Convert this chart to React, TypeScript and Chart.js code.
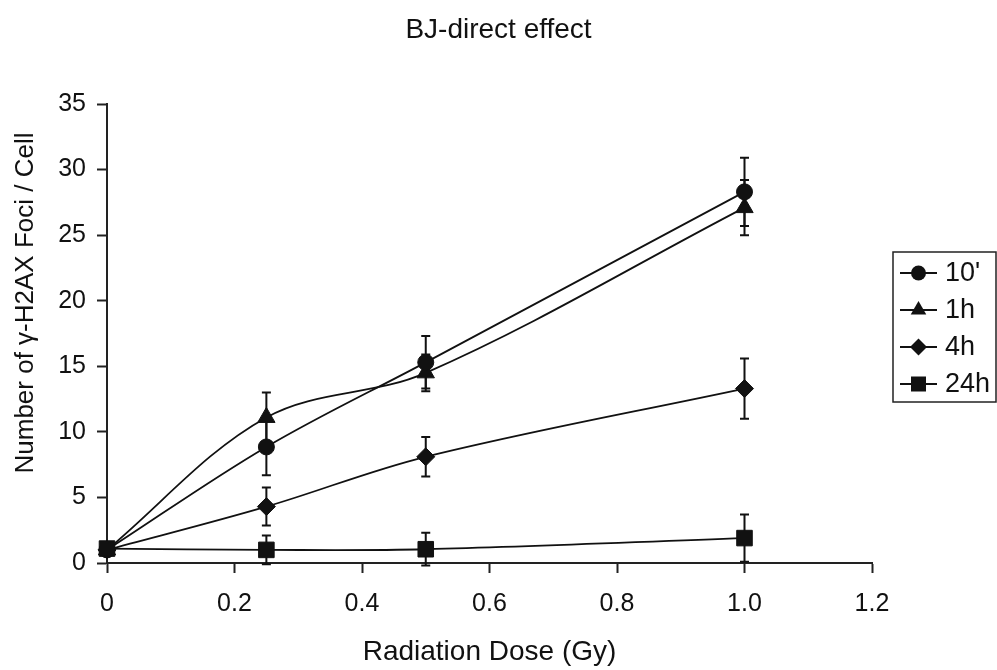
import React, { useEffect, useRef } from 'react';
import { Chart, registerables } from 'chart.js';

Chart.register(...registerables);

const doses = [0, 0.25, 0.5, 1];
const seriesLabels = ["10'", '1h', '4h', '24h'];
const foci10min = [1.0, 8.85, 15.3, 28.3];
const err10min = [0, 2.15, 2.0, 2.6];
const foci1h = [1.0, 11.1, 14.5, 27.1];
const err1h = [0, 1.9, 1.4, 2.1];
const foci4h = [1.0, 4.3, 8.1, 13.3];
const err4h = [0, 1.45, 1.5, 2.3];
const foci24h = [1.1, 1.0, 1.05, 1.9];
const err24h = [0, 1.1, 1.25, 1.8];

const chartTitle = 'BJ-direct effect';
const xTitle = 'Radiation Dose (Gy)';
const yTitle = 'Number of γ-H2AX Foci / Cell';

const FONT = '"Liberation Sans", Arial, Helvetica, sans-serif';
const INK = '#111';
const AXIS = '#222';

const seriesValues = [foci10min, foci1h, foci4h, foci24h];
const seriesErrors = [err10min, err1h, err4h, err24h];
const seriesStyles = ['circle', 'triangle', 'rectRot', 'rect'];
const seriesRadius = [8, 10, 9, 11];
const seriesOrder = [1, 2, 3, 0];

function drawMarker(ctx: CanvasRenderingContext2D, style: string, x: number, y: number) {
  ctx.beginPath();
  if (style === 'circle') {
    ctx.arc(x, y, 7.5, 0, Math.PI * 2);
  } else if (style === 'triangle') {
    const r = 9;
    ctx.moveTo(x, y - r);
    ctx.lineTo(x + r * Math.sin((2 * Math.PI) / 3), y + r / 2);
    ctx.lineTo(x - r * Math.sin((2 * Math.PI) / 3), y + r / 2);
    ctx.closePath();
  } else if (style === 'rectRot') {
    const r = 8.5;
    ctx.moveTo(x, y - r);
    ctx.lineTo(x + r, y);
    ctx.lineTo(x, y + r);
    ctx.lineTo(x - r, y);
    ctx.closePath();
  } else {
    ctx.rect(x - 7.5, y - 7.5, 15, 15);
  }
  ctx.fill();
}

const errorBarPlugin = {
  id: 'errorBars',
  beforeDatasetsDraw(chart: any) {
    const ctx = chart.ctx as CanvasRenderingContext2D;
    const yScale = chart.scales.y;
    ctx.save();
    ctx.strokeStyle = INK;
    ctx.lineWidth = 2;
    chart.data.datasets.forEach((ds: any, i: number) => {
      const meta = chart.getDatasetMeta(i);
      const errs: number[] = ds.errors || [];
      meta.data.forEach((pt: any, j: number) => {
        const e = errs[j];
        if (!e) return;
        const v = ds.data[j].y;
        const yTop = yScale.getPixelForValue(v + e);
        const yBot = yScale.getPixelForValue(v - e);
        const x = pt.x;
        ctx.beginPath();
        ctx.moveTo(x, yTop);
        ctx.lineTo(x, yBot);
        ctx.moveTo(x - 4.5, yTop);
        ctx.lineTo(x + 4.5, yTop);
        ctx.moveTo(x - 4.5, yBot);
        ctx.lineTo(x + 4.5, yBot);
        ctx.stroke();
      });
    });
    ctx.restore();
  },
};

const sideTextPlugin = {
  id: 'sideText',
  afterDraw(chart: any) {
    const ctx = chart.ctx as CanvasRenderingContext2D;
    ctx.save();
    // y-axis title
    ctx.translate(26, 303);
    ctx.rotate(-Math.PI / 2);
    ctx.fillStyle = INK;
    ctx.font = `26px ${FONT}`;
    ctx.textAlign = 'center';
    ctx.textBaseline = 'middle';
    ctx.fillText(yTitle, 0, 0);
    ctx.restore();

    // legend box
    ctx.save();
    const bx = 893, by = 252, bw = 103, bh = 150;
    ctx.strokeStyle = AXIS;
    ctx.lineWidth = 1.5;
    ctx.strokeRect(bx, by, bw, bh);
    ctx.font = `27px ${FONT}`;
    ctx.textAlign = 'left';
    ctx.textBaseline = 'middle';
    seriesLabels.forEach((label, i) => {
      const y = 273 + i * 37;
      ctx.strokeStyle = INK;
      ctx.lineWidth = 2;
      ctx.beginPath();
      ctx.moveTo(900, y);
      ctx.lineTo(937, y);
      ctx.stroke();
      ctx.fillStyle = INK;
      drawMarker(ctx, seriesStyles[i], 918.5, y);
      ctx.fillText(label, 945, y + 1);
    });
    ctx.restore();
  },
};

export default function App() {
  const canvasRef = useRef<HTMLCanvasElement | null>(null);

  useEffect(() => {
    document.body.style.margin = '0';
    const canvas = canvasRef.current;
    if (!canvas) return;
    const datasets = seriesLabels.map((label, i) => ({
      label,
      data: doses.map((d, j) => ({ x: d, y: seriesValues[i][j] })),
      errors: seriesErrors[i],
      borderColor: INK,
      backgroundColor: INK,
      borderWidth: 1.8,
      pointStyle: seriesStyles[i],
      pointRadius: seriesRadius[i],
      pointBackgroundColor: INK,
      pointBorderColor: INK,
      pointBorderWidth: 1,
      tension: 0.35,
      fill: false,
      clip: false,
      order: seriesOrder[i],
    }));

    const chart = new Chart(canvas, {
      type: 'line',
      data: { datasets } as any,
      options: {
        responsive: false,
        maintainAspectRatio: false,
        animation: false,
        devicePixelRatio: 1,
        layout: { padding: { left: 0, right: 0, top: 0, bottom: 0 } },
        plugins: {
          legend: { display: false },
          tooltip: { enabled: false },
          title: {
            display: true,
            text: chartTitle,
            color: INK,
            font: { family: FONT, size: 28, weight: 'normal' },
            padding: { top: 13, bottom: 57.4 },
          },
        },
        scales: {
          x: {
            type: 'linear',
            min: 0,
            max: 1.2,
            afterFit: (s: any) => { s.height = 107; },
            ticks: { stepSize: 0.2, color: INK, font: { family: FONT, size: 25 }, padding: 16, maxRotation: 0 },
            grid: { drawOnChartArea: false, drawTicks: true, tickLength: 10, tickColor: AXIS, tickWidth: 2 },
            border: { display: true, color: AXIS, width: 2 },
            title: {
              display: true,
              text: xTitle,
              color: INK,
              font: { family: FONT, size: 28 },
              padding: { top: 0, bottom: 1 },
            },
          },
          y: {
            type: 'linear',
            min: 0,
            max: 35,
            afterFit: (s: any) => { s.width = 107; },
            ticks: { stepSize: 5, color: INK, font: { family: FONT, size: 25 }, padding: 11 },
            grid: { drawOnChartArea: false, drawTicks: true, tickLength: 10, tickColor: AXIS, tickWidth: 2 },
            border: { display: true, color: AXIS, width: 2 },
          },
          legendSpace: {
            type: 'linear',
            position: 'right',
            display: true,
            afterFit: (s: any) => { s.width = 125; },
            ticks: { display: false },
            grid: { display: false, drawTicks: false },
            border: { display: false },
          },
        },
      } as any,
      plugins: [errorBarPlugin, sideTextPlugin],
    });
    return () => chart.destroy();
  }, []);

  return <canvas ref={canvasRef} width={997} height={670} style={{ display: 'block' }} />;
}
